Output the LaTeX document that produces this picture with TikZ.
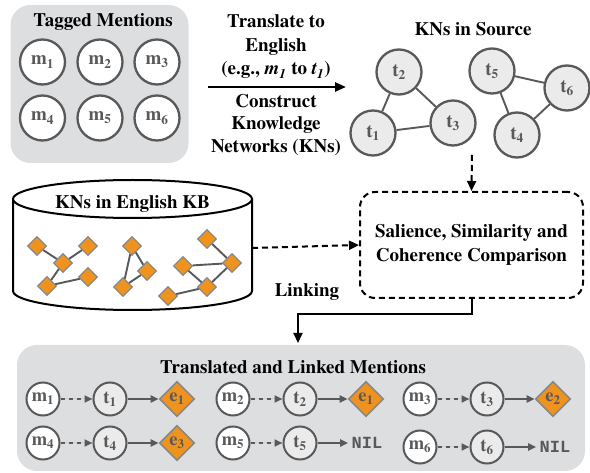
\documentclass[tikz,border=0pt]{standalone}
\usepackage{fontspec}
\setmainfont{texgyretermes}[Extension=.otf, UprightFont=*-regular, BoldFont=*-bold, ItalicFont=*-italic, BoldItalicFont=*-bolditalic]
\setmonofont{Liberation Mono}
\usetikzlibrary{shapes.geometric, arrows.meta, positioning, calc}
\definecolor{Panel}{RGB}{221, 222, 224}
\definecolor{Ink}{RGB}{88, 89, 91}
\definecolor{Entity}{RGB}{240, 147, 30}
\definecolor{EntityEdge}{RGB}{135, 135, 135}

\begin{document}
\begin{tikzpicture}[
        x=1pt, y=-1pt,
        every node/.style={text centered, font=\fontsize{19}{23.5}\selectfont\bfseries},
        panel/.style={rectangle, rounded corners=20pt, fill=Panel},
        mention/.style={circle, draw=Ink, line width=2.3pt, fill=white, minimum size=45pt, inner sep=0pt, text=Ink},
        term/.style={mention, fill=Ink!12},
        smallm/.style={mention, minimum size=33pt, line width=2pt, font=\fontsize{18.5}{20}\selectfont\bfseries},
        smallt/.style={smallm, fill=Ink!12},
        entity/.style={diamond, draw=EntityEdge, line width=1.6pt, fill=Entity, minimum size=35pt, inner sep=0pt, text=Ink, font=\fontsize{18.5}{20}\selectfont\bfseries},
        kbnode/.style={diamond, draw=EntityEdge, line width=1.3pt, fill=Entity, minimum size=19pt, inner sep=0pt},
        kbedge/.style={draw=Ink, line width=1.9pt},
        nil/.style={text=Ink, font=\fontsize{17}{19}\selectfont\ttfamily\bfseries},
        solidflow/.style={-{Triangle[length=8pt, width=7pt]}, draw=Ink, fill=Ink, line width=2pt},
        dashflow/.style={solidflow, dash pattern=on 4pt off 4pt}
    ]
        \useasboundingbox (0,0) rectangle (590,473);

        % Tagged mentions
        \node[panel, minimum width=178pt, minimum height=158pt] (tagged) at (99.5,84) {};
        \node (taggedtitle) at (103,22) {Tagged Mentions};
        \node[mention] (m1) at (42.5,62) {m\textsubscript{1}};
        \node[mention] (m2) at (100,62) {m\textsubscript{2}};
        \node[mention] (m3) at (157,62) {m\textsubscript{3}};
        \node[mention] (m4) at (42.5,118) {m\textsubscript{4}};
        \node[mention] (m5) at (100,118) {m\textsubscript{5}};
        \node[mention] (m6) at (157,118) {m\textsubscript{6}};

        % Translate and construct
        \coordinate (transstart) at (208,87);
        \coordinate (transend) at (346,87);
        \draw[-{Triangle[length=11pt, width=9pt]}, line width=2.5pt] (transstart) -- (transend);
        \node[align=center] (translate) at (276,47) {Translate to\\English\\(e.g., \textit{m\textsubscript{1}} to \textit{t\textsubscript{1}})};
        \node[align=center, font=\fontsize{19}{22.5}\selectfont\bfseries] (construct) at (276,125) {Construct\\Knowledge\\Networks (KNs)};

        % KNs in source
        \node (sourcetitle) at (473,29) {KNs in Source};
        \node[term] (t1) at (373,133) {t\textsubscript{1}};
        \node[term] (t2) at (399,72) {t\textsubscript{2}};
        \node[term] (t3) at (453,123) {t\textsubscript{3}};
        \node[term] (t4) at (517,135) {t\textsubscript{4}};
        \node[term] (t5) at (492,71) {t\textsubscript{5}};
        \node[term] (t6) at (567,88) {t\textsubscript{6}};
        \draw[kbedge] (t1) -- (t2) (t2) -- (t3) (t1) -- (t3);
        \draw[kbedge] (t5) -- (t6) (t5) -- (t4) (t4) -- (t6);

        % KNs in English KB
        \draw[line width=2pt, fill=white] (13,199) -- (13,291) arc[start angle=180, end angle=0, x radius=119.5, y radius=19] -- (252,199);
        \draw[line width=2pt, fill=white] (132.5,199) ellipse [x radius=119.5, y radius=19];
        \node (kbtitle) at (132.5,204) {KNs in English KB};
        \coordinate (kbout) at (252,248);
        \node[kbnode] (k1) at (37,246) {};
        \node[kbnode] (k2) at (88,246) {};
        \node[kbnode] (k3) at (63,263) {};
        \node[kbnode] (k4) at (88,277) {};
        \node[kbnode] (k5) at (47,286) {};
        \node[kbnode] (k6) at (132,246) {};
        \node[kbnode] (k7) at (147,271) {};
        \node[kbnode] (k8) at (123,287) {};
        \node[kbnode] (k9) at (207,239) {};
        \node[kbnode] (k10) at (232,263) {};
        \node[kbnode] (k11) at (183,266) {};
        \node[kbnode] (k12) at (207,287) {};
        \node[kbnode] (k13) at (168,296) {};
        \draw[kbedge] (k1) -- (k3) (k2) -- (k3) (k3) -- (k5) (k5) -- (k4);
        \draw[kbedge] (k6) -- (k7) (k6) -- (k8) (k8) -- (k7);
        \draw[kbedge] (k9) -- (k10) (k11) -- (k10) (k11) -- (k12) (k12) -- (k10) (k12) -- (k13);

        % Comparison
        \node[rectangle, rounded corners=15pt, draw, line width=2pt, dash pattern=on 6pt off 4pt, minimum width=223pt, minimum height=106pt, align=center] (compare) at (471.5,245) {Salience, Similarity and\\Coherence Comparison};
        \coordinate (sourceout) at (472,155);
        \draw[-{Triangle[length=10pt, width=9pt]}, line width=2pt, dash pattern=on 6pt off 4pt] (sourceout) -- (compare.north);
        \draw[-{Triangle[length=10pt, width=9pt]}, line width=2pt, dash pattern=on 6pt off 4pt] (kbout) -- (compare.west);

        % Linking
        \node (linking) at (307,292) {Linking};
        \coordinate (linkin) at (298,343);
        \draw[-{Triangle[length=10pt, width=9pt]}, line width=2pt] (compare.south) -- ++(0,15) -| (linkin);

        % Translated and linked mentions
        \node[panel, minimum width=568pt, minimum height=126pt] (result) at (301,408) {};
        \node (resulttitle) at (293,367) {Translated and Linked Mentions};
        \node[smallm] (rm1) at (43,399) {m\textsubscript{1}};
        \node[smallt] (rt1) at (110,399) {t\textsubscript{1}};
        \node[entity] (re1) at (177,399) {e\textsubscript{1}};
        \node[smallm] (rm2) at (233,399) {m\textsubscript{2}};
        \node[smallt] (rt2) at (300,399) {t\textsubscript{2}};
        \node[entity] (re2) at (366,399) {e\textsubscript{1}};
        \node[smallm] (rm3) at (420,399) {m\textsubscript{3}};
        \node[smallt] (rt3) at (487,399) {t\textsubscript{3}};
        \node[entity] (re3) at (553,399) {e\textsubscript{2}};
        \node[smallm] (rm4) at (43,443) {m\textsubscript{4}};
        \node[smallt] (rt4) at (110,443) {t\textsubscript{4}};
        \node[entity] (re4) at (177,443) {e\textsubscript{3}};
        \node[smallm] (rm5) at (233,443) {m\textsubscript{5}};
        \node[smallt] (rt5) at (300,443) {t\textsubscript{5}};
        \node[nil] (rn5) at (367,443) {NIL};
        \node[smallm] (rm6) at (420,447) {m\textsubscript{6}};
        \node[smallt] (rt6) at (487,447) {t\textsubscript{6}};
        \node[nil] (rn6) at (555,447) {NIL};
        \draw[dashflow] (rm1) -- (rt1);
        \draw[solidflow] (rt1) -- (re1);
        \draw[dashflow] (rm2) -- (rt2);
        \draw[solidflow] (rt2) -- (re2);
        \draw[dashflow] (rm3) -- (rt3);
        \draw[solidflow] (rt3) -- (re3);
        \draw[dashflow] (rm4) -- (rt4);
        \draw[solidflow] (rt4) -- (re4);
        \draw[dashflow] (rm5) -- (rt5);
        \draw[solidflow] (rt5) -- (rn5);
        \draw[dashflow] (rm6) -- (rt6);
        \draw[solidflow] (rt6) -- (rn6);
    \end{tikzpicture}
\end{document}
